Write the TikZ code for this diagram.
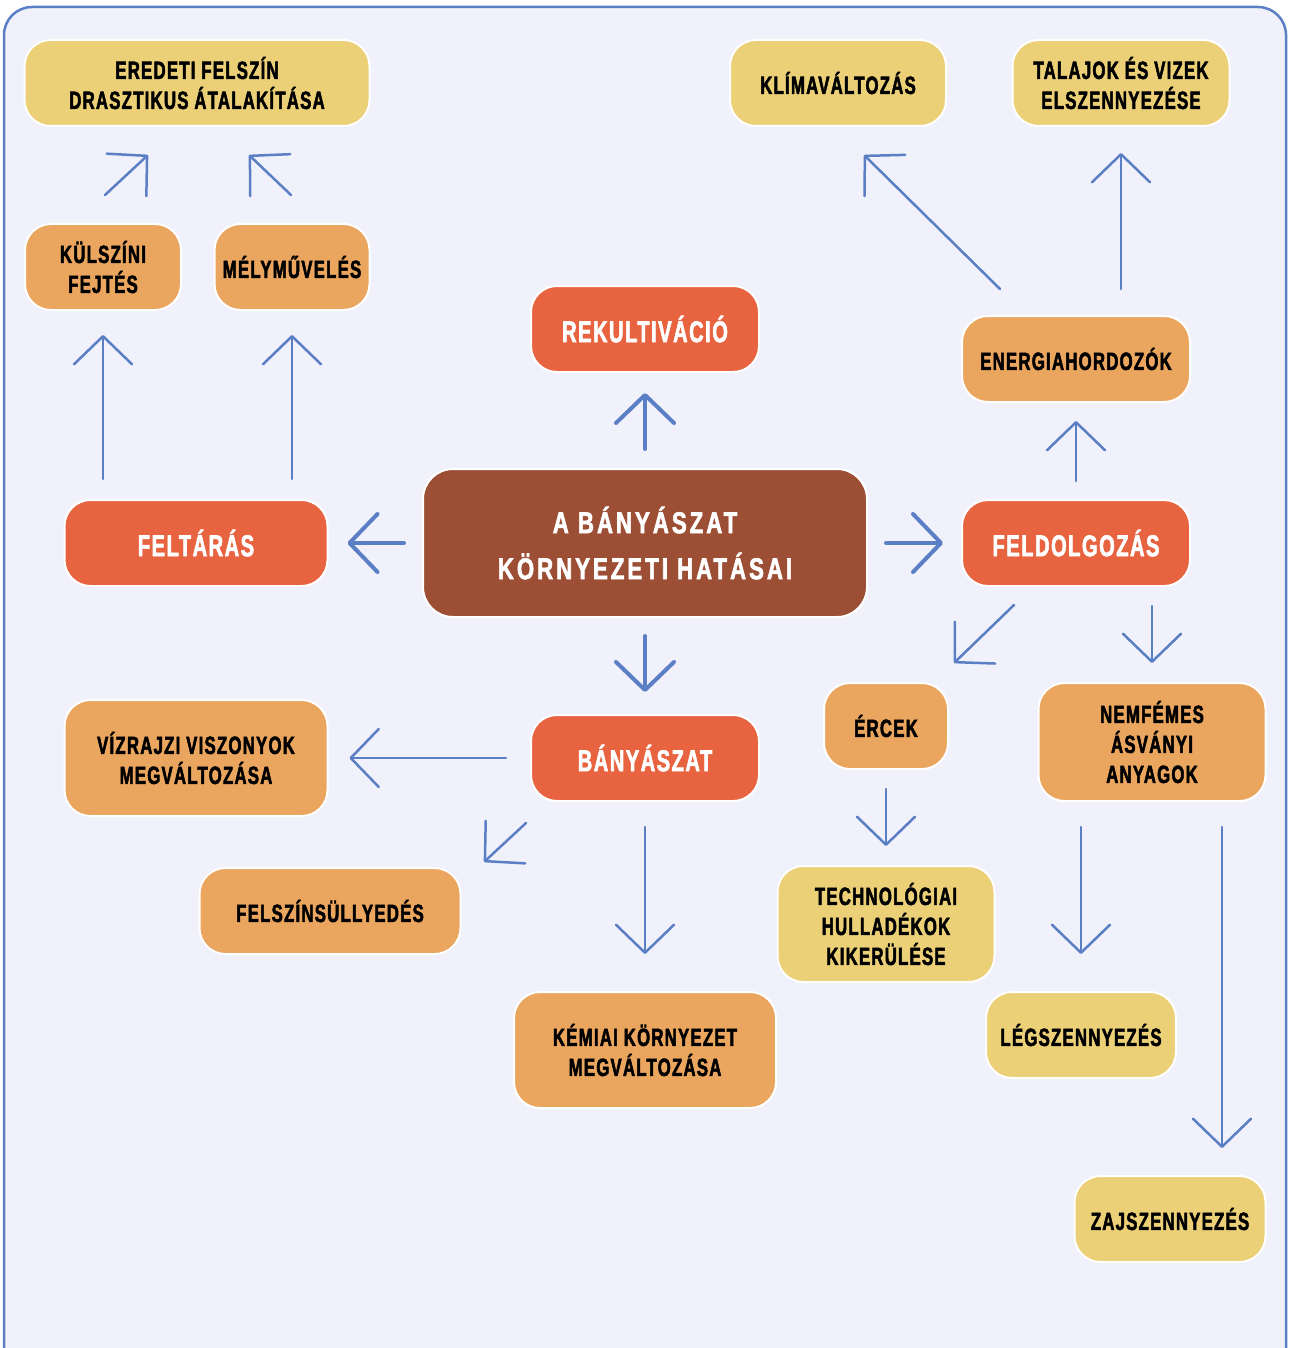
\documentclass[tikz,border=0pt]{standalone}
\usepackage{fontspec}
\usepackage{tikz}
\usetikzlibrary{arrows.meta,calc}
\newfontfamily\boxfont[FakeStretch=0.67,LetterSpace=5,FakeBold=2]{Liberation Sans Bold}
\newfontfamily\titlefont[FakeStretch=0.74,LetterSpace=10,FakeBold=2]{Liberation Sans Bold}
\definecolor{framefill}{HTML}{F0F1FA}
\definecolor{frameblue}{HTML}{5B7FC4}
\definecolor{arrowblue}{HTML}{5B7FC4}
\definecolor{boxyellow}{HTML}{EBD077}
\definecolor{boxorange}{HTML}{EAA55E}
\definecolor{boxred}{HTML}{E8633F}
\definecolor{boxbrown}{HTML}{9C4F35}

\begin{document}
\begin{tikzpicture}[
        x=1pt,y=-1pt,
        box/.style={rounded corners=26pt,draw=white,line width=2pt,align=center,inner sep=0pt,
            font=\boxfont\fontsize{25}{30}\selectfont},
        yellow box/.style={box,fill=boxyellow,text=black},
        orange box/.style={box,fill=boxorange,text=black},
        red box/.style={box,fill=boxred,text=white,font=\boxfont\fontsize{30}{32}\selectfont},
        main box/.style={box,rounded corners=30pt,fill=boxbrown,text=white,font=\titlefont\fontsize{30}{46}\selectfont},
        arr/.style={draw=arrowblue,line width=2.5pt,line cap=round,line join=round,
            -{Straight Barb[length=28pt,width=58pt,round]}},
        thick arr/.style={arr,line width=4pt}
    ]
    \clip (0,0) rectangle (1290,1348);
    \draw[draw=frameblue,fill=framefill,line width=2.5pt,rounded corners=28pt] (4,7) rectangle (1286,1378);

    % centre
    \node[main box,minimum width=444,minimum height=148] (main) at (645,543) {A BÁNYÁSZAT\\KÖRNYEZETI HATÁSAI};

    % first level
    \node[red box,minimum width=228,minimum height=86] (rekult) at (645,329) {REKULTIVÁCIÓ};
    \node[red box,minimum width=263,minimum height=86] (feltaras) at (196,543) {FELTÁRÁS};
    \node[red box,minimum width=228,minimum height=86] (feldolg) at (1076,543) {FELDOLGOZÁS};
    \node[red box,minimum width=228,minimum height=86] (bany) at (645,758) {BÁNYÁSZAT};

    % left branch
    \node[orange box,minimum width=156,minimum height=86] (kulszini) at (103,267) {KÜLSZÍNI\\FEJTÉS};
    \node[orange box,minimum width=155,minimum height=86] (mely) at (292,267) {MÉLYMŰVELÉS};
    \node[yellow box,minimum width=345,minimum height=86] (eredeti) at (197,83) {EREDETI FELSZÍN\\DRASZTIKUS ÁTALAKÍTÁSA};

    % right branch
    \node[orange box,minimum width=228,minimum height=86] (energia) at (1076,359) {ENERGIAHORDOZÓK};
    \node[yellow box,minimum width=216,minimum height=86] (klima) at (838,83) {KLÍMAVÁLTOZÁS};
    \node[yellow box,minimum width=217,minimum height=86] (talajok) at (1121,83) {TALAJOK ÉS VIZEK\\ELSZENNYEZÉSE};
    \node[orange box,minimum width=124,minimum height=86] (ercek) at (886,726) {ÉRCEK};
    \node[orange box,minimum width=227,minimum height=118] (nemfemes) at (1152,742) {NEMFÉMES\\ÁSVÁNYI\\ANYAGOK};
    \node[yellow box,minimum width=217,minimum height=116] (techno) at (886,924) {TECHNOLÓGIAI\\HULLADÉKOK\\KIKERÜLÉSE};
    \node[yellow box,minimum width=190,minimum height=86] (legsz) at (1081,1035) {LÉGSZENNYEZÉS};
    \node[yellow box,minimum width=191,minimum height=86] (zaj) at (1170,1219) {ZAJSZENNYEZÉS};

    % bottom branch
    \node[orange box,minimum width=263,minimum height=116] (vizrajzi) at (196,758) {VÍZRAJZI VISZONYOK\\MEGVÁLTOZÁSA};
    \node[orange box,minimum width=261,minimum height=86] (felszin) at (330,911) {FELSZÍNSÜLLYEDÉS};
    \node[orange box,minimum width=262,minimum height=116] (kemiai) at (645,1050) {KÉMIAI KÖRNYEZET\\MEGVÁLTOZÁSA};

    % arrows from the centre
    \draw[thick arr,shorten <=19pt,shorten >=20pt] (main) -- (rekult);
    \draw[thick arr,shorten <=18pt,shorten >=19pt] (main) -- (feltaras);
    \draw[thick arr,shorten <=18pt,shorten >=18pt] (main) -- (feldolg);
    \draw[thick arr,shorten <=18pt,shorten >=22pt] (main) -- (bany);

    % feltaras
    \draw[arr,shorten <=20pt,shorten >=24pt] (feltaras.north -| kulszini.south) -- (kulszini.south);
    \draw[arr,shorten <=20pt,shorten >=24pt] (feltaras.north -| mely.south) -- (mely.south);
    \draw[arr] ([shift={(2,-28)}]kulszini.north) -- ([shift={(-49,28)}]eredeti.south);
    \draw[arr] ([shift={(-1,-28)}]mely.north) -- ([shift={(52,28)}]eredeti.south);

    % feldolgozas
    \draw[arr,shorten <=18pt,shorten >=18pt] (feldolg) -- (energia);
    \draw[arr] ([shift={(-76,-26)}]energia.north) -- ([shift={(26,28)}]klima.south);
    \draw[arr,shorten <=26pt,shorten >=26pt] (energia.north -| talajok.south) -- (talajok.south);
    \draw[arr] ([shift={(-62,18)}]feldolg.south) -- ([shift={(68,-19)}]ercek.north);
    \draw[arr,shorten <=19pt,shorten >=19pt] (feldolg.south -| nemfemes.north) -- (nemfemes.north);
    \draw[arr,shorten <=19pt,shorten >=19pt] (ercek) -- (techno);
    \draw[arr,shorten <=25pt,shorten >=37pt] (nemfemes.south -| legsz.north) -- (legsz.north);
    \draw[arr] ([shift={(70,25)}]nemfemes.south) -- ([shift={(52,-27)}]zaj.north);

    % banyaszat
    \draw[arr,shorten <=24pt,shorten >=21pt] (bany) -- (vizrajzi);
    \draw[arr] ([shift={(-119,21)}]bany.south) -- ([shift={(154,-5)}]felszin.north);
    \draw[arr,shorten <=25pt,shorten >=37pt] (bany) -- (kemiai);
\end{tikzpicture}
\end{document}
